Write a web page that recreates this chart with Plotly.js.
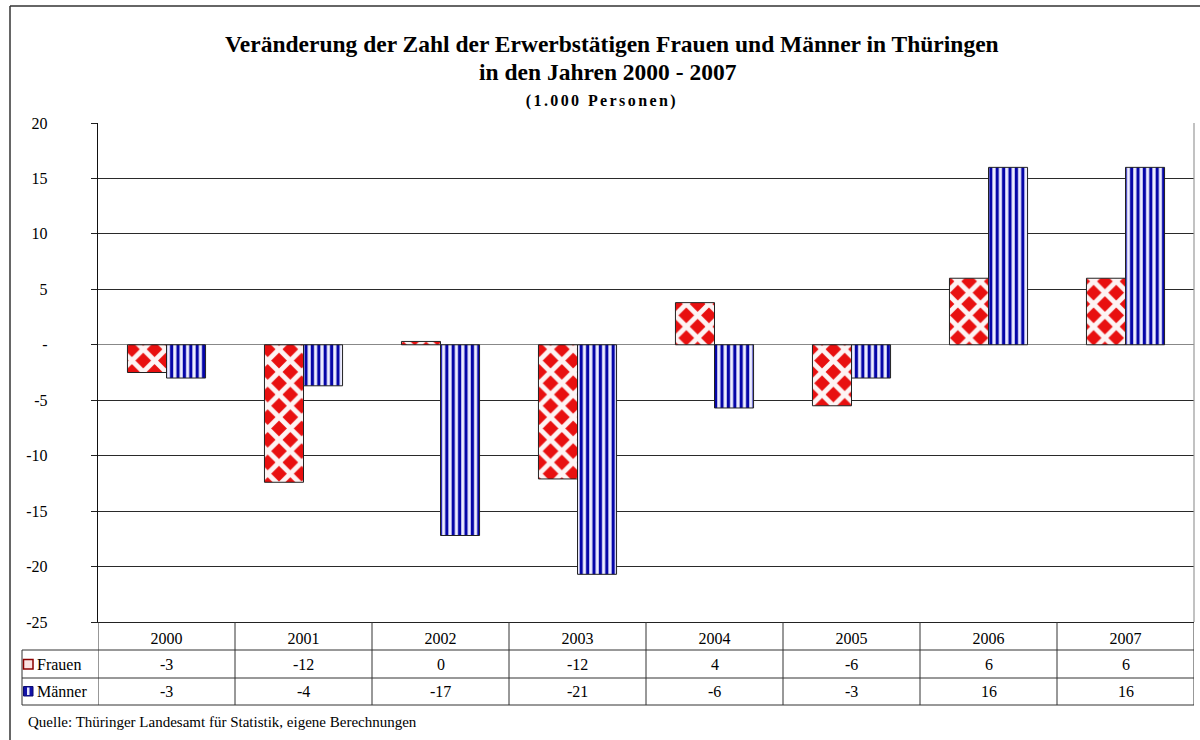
<!DOCTYPE html>
<html>
<head>
<meta charset="utf-8">
<script src="https://cdn.plot.ly/plotly-3.0.1.min.js"></script>
<style>
  html, body { margin: 0; padding: 0; background: #ffffff; overflow: hidden; }
  #chart { width: 1200px; height: 740px; }
  #chart g.annotation[data-index="20"] text { letter-spacing: 2.4px; }
</style>
</head>
<body>
<div id="chart"></div>
<script>
// ---- data ----
const years = ['2000', '2001', '2002', '2003', '2004', '2005', '2006', '2007'];
const frauen = [-2.5, -12.4, 0.3, -12.1, 3.8, -5.5, 6.0, 6.0];
const maenner = [-3.0, -3.7, -17.2, -20.7, -5.7, -3.0, 16.0, 16.0];
const frauenTable = [-3, -12, 0, -12, 4, -6, 6, 6];
const maennerTable = [-3, -4, -17, -21, -6, -3, 16, 16];
const yTickVals = [20, 15, 10, 5, 0, -5, -10, -15, -20, -25];
const yTickText = ['20', '15', '10', '5', '-', '-5', '-10', '-15', '-20', '-25'];
const seriesNames = ['Frauen', 'Männer'];
const titleLines = [
  'Veränderung der Zahl der Erwerbstätigen Frauen und Männer in Thüringen',
  'in den Jahren 2000 - 2007',
  '(1.000 Personen)'
];
const sourceText = 'Quelle: Thüringer Landesamt für Statistik, eigene Berechnungen';

// ---- geometry helpers (pixel -> paper) ----
const W = 1200, H = 740;
const M = { l: 98, r: 6, t: 123, b: 118 };
const PW = W - M.l - M.r, PH = H - M.t - M.b;
const px = x => (x - M.l) / PW;
const py = y => (H - M.b - y) / PH;

const serif = '"Liberation Serif", "Times New Roman", serif';

const traces = [
  {
    type: 'bar', name: seriesNames[0], x: years, y: frauen,
    marker: {
      color: '#e81010',
      line: { color: '#222', width: 1 },
      pattern: { shape: 'x', fgcolor: '#fdf4f4', bgcolor: '#e81010', size: 16, solidity: 0.52, fillmode: 'replace' }
    },
    hoverinfo: 'x+y', showlegend: false
  },
  {
    type: 'bar', name: seriesNames[1], x: years, y: maenner,
    marker: {
      color: '#1010c0',
      line: { color: '#222', width: 1 },
      pattern: { shape: '|', fgcolor: '#0606a8', bgcolor: '#eeeeff', size: 6.4, solidity: 0.5, fillmode: 'replace' }
    },
    hoverinfo: 'x+y', showlegend: false
  }
];

const shapes = [];
const annotations = [];

// outer frame (left and top edges; right/bottom lie outside the picture)
shapes.push({ type: 'line', xref: 'paper', yref: 'paper', x0: px(10), x1: px(10), y0: py(745), y1: py(6),
  line: { color: '#333', width: 1.5 } });
shapes.push({ type: 'line', xref: 'paper', yref: 'paper', x0: px(10), x1: px(1205), y0: py(6), y1: py(6),
  line: { color: '#333', width: 1.5 } });
// plot right border
shapes.push({ type: 'line', xref: 'paper', yref: 'paper', x0: 1, x1: 1, y0: 0, y1: 1,
  line: { color: '#999', width: 1.2 } });

// table lines
const rowY = [py(650), py(678), py(705)];
rowY.forEach(yv => shapes.push({ type: 'line', xref: 'paper', yref: 'paper', x0: px(22), x1: 1, y0: yv, y1: yv,
  line: { color: '#333', width: 1 } }));
for (let i = 0; i <= years.length; i++) {
  shapes.push({ type: 'line', xref: 'x', yref: 'paper', x0: i - 0.5, x1: i - 0.5, y0: py(705), y1: 0,
    line: { color: '#333', width: 1 } });
}
shapes.push({ type: 'line', xref: 'paper', yref: 'paper', x0: px(22), x1: px(22), y0: py(705), y1: py(650),
  line: { color: '#333', width: 1 } });

// legend keys
shapes.push({ type: 'rect', xref: 'paper', yref: 'paper', x0: px(23.5), x1: px(33), y0: py(669), y1: py(659.5),
  fillcolor: '#fbe4e4', line: { color: '#8a0000', width: 1.5 } });
shapes.push({ type: 'rect', xref: 'paper', yref: 'paper', x0: px(23.5), x1: px(33), y0: py(696), y1: py(686.5),
  fillcolor: '#1212a8', line: { color: '#0a0a70', width: 1 } });
shapes.push({ type: 'rect', xref: 'paper', yref: 'paper', x0: px(27), x1: px(29.5), y0: py(695), y1: py(687.5),
  fillcolor: '#e6e6ff', line: { width: 0 } });

// legend labels (annotation indices 0,1)
annotations.push({ xref: 'paper', yref: 'paper', x: px(35), y: py(664), xanchor: 'left', yanchor: 'middle',
  text: seriesNames[0], showarrow: false, font: { family: serif, size: 16, color: '#000' } });
annotations.push({ xref: 'paper', yref: 'paper', x: px(35), y: py(691.5), xanchor: 'left', yanchor: 'middle',
  text: seriesNames[1], showarrow: false, font: { family: serif, size: 16, color: '#000' } });

// table values (indices 2..17)
years.forEach((yr, i) => {
  annotations.push({ xref: 'x', yref: 'paper', x: i, y: py(664), xanchor: 'center', yanchor: 'middle',
    text: String(frauenTable[i]), showarrow: false, font: { family: serif, size: 16, color: '#000' } });
  annotations.push({ xref: 'x', yref: 'paper', x: i, y: py(691.5), xanchor: 'center', yanchor: 'middle',
    text: String(maennerTable[i]), showarrow: false, font: { family: serif, size: 16, color: '#000' } });
});

// titles (indices 18,19,20)
annotations.push({ xref: 'paper', yref: 'paper', x: px(612), y: py(44), xanchor: 'center', yanchor: 'middle',
  text: '<b>' + titleLines[0] + '</b>', showarrow: false, font: { family: serif, size: 23.5, color: '#000' } });
annotations.push({ xref: 'paper', yref: 'paper', x: px(608), y: py(72), xanchor: 'center', yanchor: 'middle',
  text: '<b>' + titleLines[1] + '</b>', showarrow: false, font: { family: serif, size: 23.5, color: '#000' } });
annotations.push({ xref: 'paper', yref: 'paper', x: px(602), y: py(101), xanchor: 'center', yanchor: 'middle',
  text: '<b>' + titleLines[2] + '</b>', showarrow: false, font: { family: serif, size: 16, color: '#000' } });

// source (index 21)
annotations.push({ xref: 'paper', yref: 'paper', x: px(26), y: py(722), xanchor: 'left', yanchor: 'middle',
  text: sourceText, showarrow: false, font: { family: serif, size: 15, color: '#000' } });

const layout = {
  width: W, height: H,
  margin: M,
  paper_bgcolor: '#ffffff', plot_bgcolor: '#ffffff',
  barmode: 'group', bargap: 0.43, bargroupgap: 0,
  showlegend: false,
  font: { family: serif, size: 16, color: '#000' },
  xaxis: {
    type: 'category', categoryarray: years, range: [-0.5, years.length - 0.5],
    showgrid: false, zeroline: false, showline: true, linecolor: '#222', linewidth: 1,
    ticks: '', tickfont: { family: serif, size: 16, color: '#000' }, ticklabelstandoff: 2
  },
  yaxis: {
    range: [-25, 20], tickmode: 'array', tickvals: yTickVals, ticktext: yTickText,
    showgrid: true, gridcolor: '#2a2a2a', gridwidth: 1,
    zeroline: true, zerolinecolor: '#888', zerolinewidth: 1.2,
    showline: true, linecolor: '#111', linewidth: 1.2,
    ticks: 'outside', ticklen: 6, tickcolor: '#222', tickwidth: 1,
    ticklabelstandoff: 40,
    tickfont: { family: serif, size: 16, color: '#000' }
  },
  shapes: shapes,
  annotations: annotations
};

Plotly.newPlot('chart', traces, layout, { displayModeBar: false, staticPlot: true });
</script>
</body>
</html>
